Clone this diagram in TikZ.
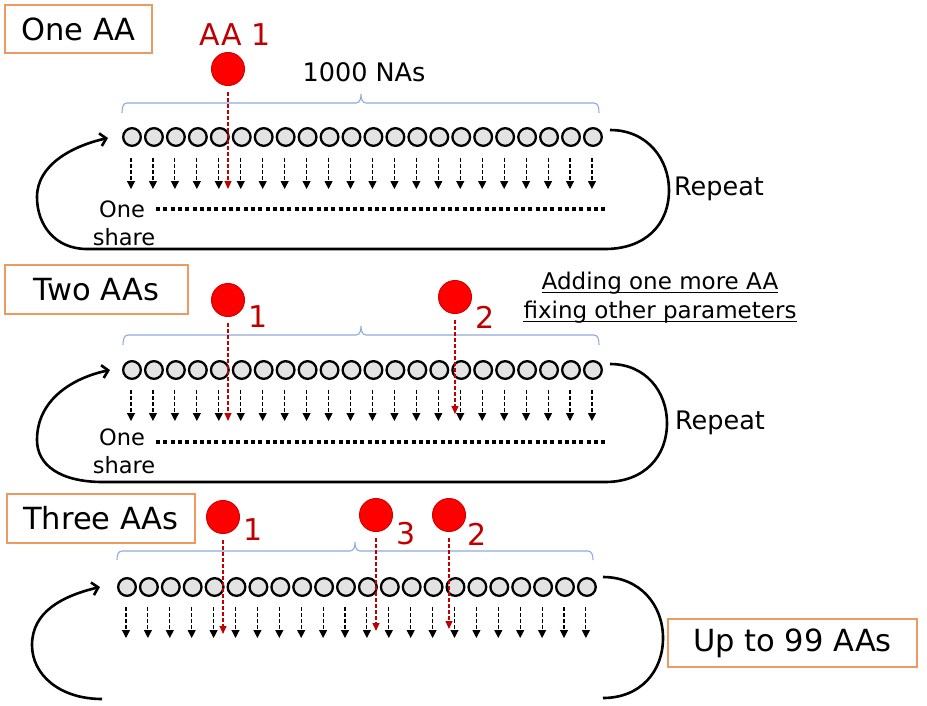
\documentclass[tikz,border=0pt]{standalone}
\usepackage{fontspec}
\setmainfont{DejaVu Sans}
\usetikzlibrary{arrows.meta}
\definecolor{boxorange}{HTML}{EC9A62}
\definecolor{aared}{HTML}{C00000}
\definecolor{ballred}{HTML}{FF0000}
\definecolor{bracebl}{HTML}{8FAADC}
\definecolor{nagray}{HTML}{E3E3E3}
\tikzset{
  titlebox/.style={draw=boxorange, line width=1.2pt, inner sep=0pt, font=\fontsize{30.5}{36}\selectfont},
  na/.style={circle, draw, line width=2.3pt, fill=nagray, minimum size=17.7pt, inner sep=0pt},
  ball/.style={circle, fill=ballred, draw=aared!70!ballred, line width=1pt, minimum size=33pt, inner sep=0pt},
  naarr/.style={line width=1.1pt, dash pattern=on 3.5pt off 2.5pt, -{Triangle[length=8pt,width=8pt]}},
  redarr/.style={aared, line width=1.1pt, dash pattern=on 3.5pt off 2.5pt, shorten <=6pt, -{Triangle[length=8pt,width=7pt]}},
  dotline/.style={line width=3.5pt, dash pattern=on 4pt off 3.3pt},
  loopline/.style={line width=2.6pt},
  looparr/.style={line width=2.6pt, -{Straight Barb[length=6pt,width=13pt]}},
  bracel/.style={bracebl, line width=1.1pt},
  redlbl/.style={aared, inner sep=0pt, font=\fontsize{30}{36}\selectfont},
  midtxt/.style={inner sep=0pt, font=\fontsize{25.5}{30}\selectfont},
  smalltxt/.style={inner sep=0pt, font=\fontsize{22.5}{27}\selectfont},
}
\begin{document}
\begin{tikzpicture}[x=1pt,y=-1pt]
\useasboundingbox (0,0) rectangle (927,705);
\fill[white] (0,0) rectangle (927,705);

% ---------------- Panel 1 ----------------
\node[titlebox, minimum width=147pt, minimum height=48pt] (title1) at (78.5,29) {One AA};
\node[redlbl] (aa1lbl) at (235,35) {AA 1};
\node[midtxt] (na1lbl) at (364,72) {1000 NAs};
\draw[bracel] (122,113) to[out=90,in=180] (127,103) -- (356,103) to[out=0,in=-90] (361,94)
  to[out=-90,in=180] (366,103) -- (594,103) to[out=0,in=90] (599,113);
\foreach \i in {1,...,22} {
  \pgfmathsetmacro\xx{132+(\i-1)*21.95}
  \node[na] (pa\i) at (\xx,137) {};
  \coordinate (pa\i t) at (\xx-1,158);
  \coordinate (pa\i b) at (\xx-1,189);
  \draw[naarr] (pa\i t) -- (pa\i b);
}
\node[ball] (ba1) at (228,69) {};
\coordinate (ba1e) at (228,189);
\draw[redarr] (ba1) -- (ba1e);
\node[smalltxt] (one1) at (122,209) {One};
\node[smalltxt] (share1) at (124,237) {share};
\coordinate (d1s) at (156,209);
\coordinate (d1e) at (607,209);
\draw[dotline] (d1s) -- (d1e);
\coordinate (L1a) at (610,130);
\coordinate (L1b) at (87,249);
\coordinate (L1tip) at (108,138);
\draw[looparr] (L1a) .. controls (648,130) and (669,160) .. (669,190)
  .. controls (669,225) and (645,249) .. (605,249) -- (L1b)
  .. controls (55,249) and (37,225) .. (37,197)
  .. controls (37,165) and (72,146) .. (L1tip);
\node[midtxt] (rep1) at (719,189) {Repeat};

% ---------------- Panel 2 ----------------
\node[titlebox, minimum width=183pt, minimum height=49pt] (title2) at (96.5,289.5) {Two AAs};
\node[smalltxt, font=\fontsize{23}{27}\selectfont] (add1) at (660,283) {Adding one more AA};
\node[smalltxt, font=\fontsize{23}{27}\selectfont] (add2) at (660,312) {fixing other parameters};
\draw[line width=1.2pt] ([yshift=-3pt]add1.base west) -- ([yshift=-3pt]add1.base east);
\draw[line width=1.2pt] ([yshift=-3pt]add2.base west) -- ([yshift=-3pt]add2.base east);
\draw[bracel] (123,345) to[out=90,in=180] (128,335) -- (356,335) to[out=0,in=-90] (361,326)
  to[out=-90,in=180] (366,335) -- (594,335) to[out=0,in=90] (599,345);
\foreach \i in {1,...,22} {
  \pgfmathsetmacro\xx{132+(\i-1)*21.95}
  \node[na] (pb\i) at (\xx,370) {};
  \coordinate (pb\i t) at (\xx-1,390);
  \coordinate (pb\i b) at (\xx-1,421);
  \draw[naarr] (pb\i t) -- (pb\i b);
}
\node[ball] (bb1) at (228,300) {};
\node[redlbl] (lb1) at (258,317) {1};
\coordinate (bb1e) at (228,421);
\draw[redarr] (bb1) -- (bb1e);
\node[ball] (bb2) at (455,297) {};
\node[redlbl] (lb2) at (485,317) {2};
\coordinate (bb2e) at (455,414);
\draw[redarr] (bb2) -- (bb2e);
\node[smalltxt] (one2) at (122,437) {One};
\node[smalltxt] (share2) at (124,465) {share};
\coordinate (d2s) at (156,442);
\coordinate (d2e) at (607,442);
\draw[dotline] (d2s) -- (d2e);
\coordinate (L2a) at (610,364);
\coordinate (L2b) at (103,482);
\coordinate (L2tip) at (110,370);
\draw[looparr] (L2a) .. controls (646,364) and (667,392) .. (667,423)
  .. controls (667,456) and (645,482) .. (605,482) -- (L2b)
  .. controls (60,482) and (37,465) .. (37,440)
  .. controls (37,400) and (72,378) .. (L2tip);
\node[midtxt] (rep2) at (720,423) {Repeat};

% ---------------- Panel 3 ----------------
\node[titlebox, minimum width=188pt, minimum height=49pt] (title3) at (101,518.5) {Three AAs};
\draw[bracel] (117,560) to[out=90,in=180] (122,551) -- (350,551) to[out=0,in=-90] (355,542)
  to[out=-90,in=180] (360,551) -- (588,551) to[out=0,in=90] (593,560);
\foreach \i in {1,...,22} {
  \pgfmathsetmacro\xx{127+(\i-1)*21.9}
  \node[na] (pc\i) at (\xx,587) {};
  \coordinate (pc\i t) at (\xx-1,607);
  \coordinate (pc\i b) at (\xx-1,638);
  \draw[naarr] (pc\i t) -- (pc\i b);
}
\node[ball] (bc1) at (223,517) {};
\node[redlbl] (lc1) at (253,530) {1};
\coordinate (bc1e) at (223,634);
\draw[redarr] (bc1) -- (bc1e);
\node[ball] (bc3) at (376,515) {};
\node[redlbl] (lc3) at (406,534) {3};
\coordinate (bc3e) at (376,631);
\draw[redarr] (bc3) -- (bc3e);
\node[ball] (bc2) at (449,515) {};
\node[redlbl] (lc2) at (477,534) {2};
\coordinate (bc2e) at (449,629);
\draw[redarr] (bc2) -- (bc2e);
\coordinate (L3a) at (603,577);
\coordinate (L3b) at (603,698);
\draw[loopline] (L3a) .. controls (640,577) and (663,605) .. (663,638)
  .. controls (663,672) and (640,698) .. (L3b);
\coordinate (L3c) at (102,699);
\coordinate (L3tip) at (100,587);
\draw[looparr] (L3c) .. controls (60,699) and (32,675) .. (32,645)
  .. controls (32,612) and (62,596) .. (L3tip);
\node[titlebox, minimum width=249pt, minimum height=48pt] (upto) at (792.5,643) {Up to 99 AAs};
\end{tikzpicture}
\end{document}
